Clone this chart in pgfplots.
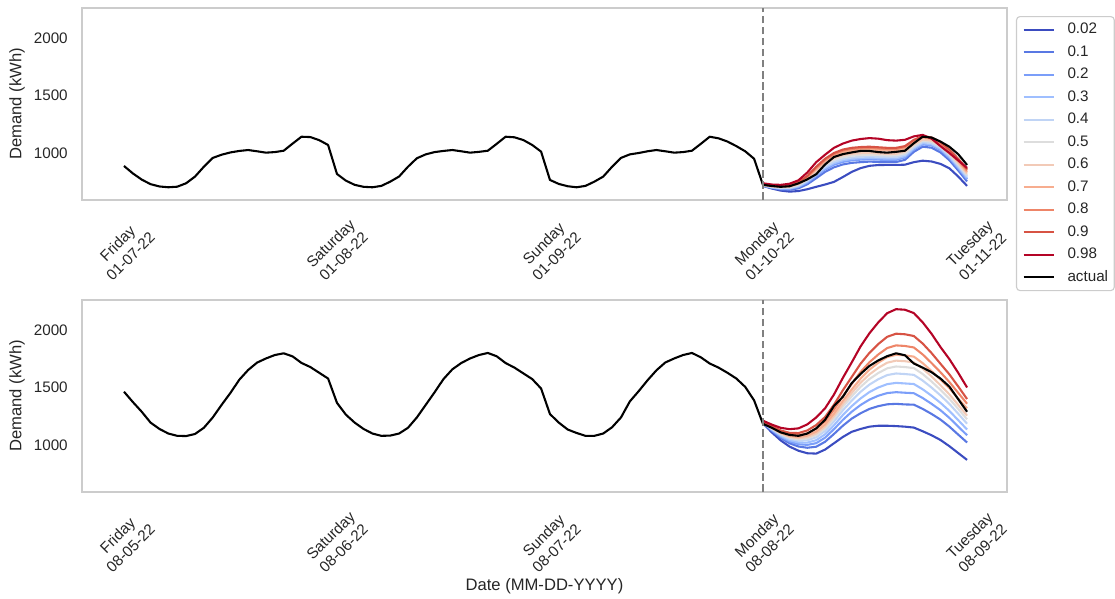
\documentclass[border=0pt]{standalone}
\usepackage{fontspec}
\setmainfont{Liberation Sans}
\usepackage{pgfplots}
\usepackage{pgfplotstable}
\pgfplotsset{compat=1.18}
\newlength\pxu \setlength\pxu{0.72bp}
\definecolor{c0}{RGB}{59,76,192}
\definecolor{c1}{RGB}{89,120,227}
\definecolor{c2}{RGB}{123,158,249}
\definecolor{c3}{RGB}{159,191,255}
\definecolor{c4}{RGB}{192,212,245}
\definecolor{c5}{RGB}{221,221,221}
\definecolor{c6}{RGB}{242,202,183}
\definecolor{c7}{RGB}{247,173,143}
\definecolor{c8}{RGB}{238,133,104}
\definecolor{c9}{RGB}{215,83,68}
\definecolor{c10}{RGB}{180,4,38}
\definecolor{axisgray}{RGB}{204,204,204}
\definecolor{textc}{RGB}{38,38,38}
\definecolor{dashg}{RGB}{128,128,128}

\pgfplotstableread[row sep=\\]{
h v\\
0 887\\1 822\\2 768\\3 728\\4 708\\5 701\\6 706\\7 736\\8 794\\9 880\\10 957\\11 985\\12 1005\\13 1018\\14 1026\\15 1015\\16 1003\\17 1008\\18 1020\\19 1082\\20 1142\\21 1139\\22 1112\\23 1070\\
24 817\\25 759\\26 722\\27 705\\28 701\\29 713\\30 750\\31 795\\32 880\\33 954\\34 988\\35 1008\\36 1018\\37 1026\\38 1015\\39 1003\\40 1010\\41 1020\\42 1080\\43 1142\\44 1137\\45 1113\\46 1070\\47 1012\\
48 765\\49 730\\50 710\\51 701\\52 713\\53 750\\54 794\\55 880\\56 957\\57 988\\58 1000\\59 1015\\60 1026\\61 1015\\62 1003\\63 1008\\64 1020\\65 1080\\66 1142\\67 1128\\68 1100\\69 1060\\70 1015\\71 950\\
72 722\\73 712\\74 705\\75 710\\76 735\\77 770\\78 815\\79 900\\80 965\\81 990\\82 1005\\83 1018\\84 1018\\85 1008\\86 1003\\87 1010\\88 1020\\89 1085\\90 1142\\91 1135\\92 1100\\93 1055\\94 990\\95 896\\
}\topact

\pgfplotstableread[row sep=\\]{
h v\\
0 1465\\1 1375\\2 1290\\3 1195\\4 1140\\5 1100\\6 1080\\7 1078\\8 1096\\9 1150\\10 1240\\11 1350\\12 1455\\13 1570\\14 1655\\15 1719\\16 1755\\17 1785\\18 1800\\19 1773\\20 1716\\21 1680\\22 1630\\23 1580\\
24 1368\\25 1265\\26 1195\\27 1140\\28 1100\\29 1080\\30 1082\\31 1100\\32 1150\\33 1240\\34 1350\\35 1460\\36 1575\\37 1660\\38 1715\\39 1755\\40 1785\\41 1803\\42 1774\\43 1715\\44 1675\\45 1625\\46 1575\\47 1493\\
48 1270\\49 1195\\50 1135\\51 1105\\52 1080\\53 1080\\54 1100\\55 1155\\56 1240\\57 1380\\58 1470\\59 1565\\60 1652\\61 1720\\62 1755\\63 1785\\64 1803\\65 1765\\66 1711\\67 1675\\68 1630\\69 1580\\70 1507\\71 1390\\
72 1185\\73 1150\\74 1110\\75 1088\\76 1080\\77 1100\\78 1145\\79 1220\\80 1340\\81 1420\\82 1540\\83 1620\\84 1690\\85 1738\\86 1775\\87 1800\\88 1783\\89 1711\\90 1675\\91 1635\\92 1580\\93 1510\\94 1400\\95 1290\\
}\botact

\pgfplotstableread[row sep=\\]{
h q02 q10 q20 q30 q40 q50 q60 q70 q80 q90 q98\\
72 713 715 716 717 718 720 722 724 726 728 736\\
73 690 695 698 700 703 706 709 712 715 718 725\\
74 672 682 688 691 695 699 703 707 710 713 722\\
75 663 679 687 691 696 701 706 711 715 718 732\\
76 668 692 703 709 715 722 728 735 740 745 762\\
77 684 727 742 750 758 767 775 785 793 800 830\\
78 705 780 800 810 820 833 845 860 870 880 920\\
79 725 835 856 868 880 895 910 928 940 950 985\\
80 748 875 898 910 923 940 955 977 990 1000 1045\\
81 790 900 922 935 947 963 980 1005 1020 1030 1082\\
82 835 914 936 948 960 977 993 1020 1035 1045 1108\\
83 868 920 942 954 966 982 998 1028 1042 1052 1122\\
84 888 925 945 958 970 985 1000 1032 1045 1055 1130\\
85 895 922 942 954 966 981 996 1027 1040 1050 1125\\
86 896 920 939 951 963 978 992 1022 1035 1045 1112\\
87 896 921 940 952 964 979 993 1022 1035 1045 1108\\
88 898 940 960 972 984 998 1012 1040 1052 1060 1115\\
89 920 1010 1030 1040 1050 1063 1075 1098 1108 1115 1145\\
90 933 1055 1075 1085 1095 1108 1118 1135 1142 1148 1158\\
91 926 1046 1066 1076 1085 1098 1108 1122 1130 1135 1125\\
92 905 1005 1026 1036 1046 1058 1068 1080 1088 1095 1060\\
93 867 938 957 968 978 990 1000 1012 1022 1030 1000\\
94 795 848 866 878 890 903 915 928 940 950 935\\
95 713 752 770 783 795 808 820 835 848 860 870\\
}\topfc

\pgfplotstableread[row sep=\\]{
h q02 q10 q20 q30 q40 q50 q60 q70 q80 q90 q98\\
72 1189 1193 1196 1198 1199 1201 1202 1203 1205 1207 1212\\
73 1110 1123 1130 1135 1141 1145 1148 1151 1157 1164 1178\\
74 1040 1061 1072 1081 1090 1096 1102 1107 1116 1127 1150\\
75 986 1015 1030 1042 1054 1064 1071 1079 1091 1106 1138\\
76 950 987 1007 1022 1038 1049 1059 1069 1085 1104 1145\\
77 928 976 1001 1021 1041 1057 1069 1082 1102 1127 1180\\
78 925 985 1016 1042 1067 1086 1101 1117 1142 1174 1240\\
79 960 1028 1064 1093 1122 1144 1162 1180 1208 1244 1320\\
80 1015 1096 1138 1172 1206 1232 1253 1274 1308 1351 1440\\
81 1070 1168 1219 1261 1302 1333 1358 1384 1425 1477 1585\\
82 1115 1230 1290 1339 1387 1424 1454 1484 1532 1593 1720\\
83 1140 1277 1349 1406 1464 1507 1543 1579 1637 1709 1860\\
84 1160 1315 1396 1462 1527 1576 1616 1657 1722 1804 1975\\
85 1168 1339 1430 1502 1574 1628 1673 1718 1790 1881 2070\\
86 1168 1355 1453 1531 1610 1669 1718 1767 1846 1944 2150\\
87 1165 1359 1461 1542 1624 1685 1736 1787 1869 1971 2185\\
88 1160 1354 1456 1537 1619 1680 1731 1782 1864 1966 2180\\
89 1152 1352 1452 1532 1612 1671 1721 1771 1851 1951 2151\\
90 1120 1315 1410 1486 1562 1619 1666 1714 1790 1885 2070\\
91 1085 1271 1359 1430 1501 1554 1598 1645 1715 1802 1970\\
92 1044 1222 1304 1368 1433 1482 1522 1570 1635 1709 1855\\
93 990 1161 1237 1298 1359 1404 1442 1495 1550 1617 1750\\
94 930 1091 1161 1217 1273 1315 1350 1405 1455 1511 1630\\
95 870 1022 1085 1135 1186 1224 1256 1320 1360 1401 1502\\
}\botfc

\pgfplotsset{
  demand/.style={
    scale only axis, width=925\pxu, height=192\pxu,
    xmin=-4.73, xmax=99.5, ymin=590, ymax=2265,
    axis line style={draw=axisgray, line width=1.25bp},
    major tick length=0pt, tick style={draw=none},
    ytick={1000,1500,2000}, xtick={0,24,48,72,96},
    /pgf/number format/assume math mode=true,
    scaled y ticks=false,
    yticklabel={\pgfmathprintnumber[1000 sep={}]{\tick}},
    yticklabel style={font=\fontsize{11}{13.2}\selectfont, text=textc, anchor=east, inner sep=0pt, xshift=-14\pxu},
    xticklabel style={font=\fontsize{11}{13.2}\selectfont, text=textc, yshift=-50\pxu, rotate=45, anchor=center, align=center, inner sep=0pt},
    ylabel={Demand (kWh)},
    ylabel style={font=\fontsize{12}{14}\selectfont, text=textc, at={(axis description cs:-0.0703,0.5)}, anchor=center},
    every axis plot/.append style={line width=1.5bp, no markers, line join=round},
  },
  vline/.style={dashg, line width=1.5bp, dash pattern=on 5.55bp off 2.4bp, forget plot},
}

\begin{document}
\begin{tikzpicture}
\path[use as bounding box] (0,0) rectangle (1115\pxu,-599\pxu);

\begin{axis}[demand, at={(82\pxu,-8\pxu)}, anchor=north west,
  xticklabels={{Friday\\01-07-22},{Saturday\\01-08-22},{Sunday\\01-09-22},{Monday\\01-10-22},{Tuesday\\01-11-22}},
  legend style={at={(axis description cs:1.0097,0.9583)}, anchor=north west,
    draw=axisgray, line width=0.8bp, rounded corners=2.5bp, fill=white,
    font=\fontsize{11}{13.2}\selectfont, text=textc,
    inner xsep=4.4bp, inner ysep=4.2bp, row sep=5.5bp,
    nodes={inner sep=0pt, text height=8.2bp, text depth=2.5bp},
    /tikz/every odd column/.append style={column sep=8.8bp}},
  legend cell align=left,
  legend image code/.code={\draw[#1, line width=1.5bp] (0bp,0bp) -- (22bp,0bp);},
]
\addplot[c0] table[x=h, y=q02] {\topfc};
\addplot[c1] table[x=h, y=q10] {\topfc};
\addplot[c2] table[x=h, y=q20] {\topfc};
\addplot[c3] table[x=h, y=q30] {\topfc};
\addplot[c4] table[x=h, y=q40] {\topfc};
\addplot[c5] table[x=h, y=q50] {\topfc};
\addplot[c6] table[x=h, y=q60] {\topfc};
\addplot[c7] table[x=h, y=q70] {\topfc};
\addplot[c8] table[x=h, y=q80] {\topfc};
\addplot[c9] table[x=h, y=q90] {\topfc};
\addplot[c10] table[x=h, y=q98] {\topfc};
\addplot[black] table[x=h, y=v] {\topact};
\addplot[vline] coordinates {(72,590) (72,2265)};
\legend{0.02,0.1,0.2,0.3,0.4,0.5,0.6,0.7,0.8,0.9,0.98,actual}
\end{axis}

\begin{axis}[demand, at={(82\pxu,-300\pxu)}, anchor=north west,
  xticklabels={{Friday\\08-05-22},{Saturday\\08-06-22},{Sunday\\08-07-22},{Monday\\08-08-22},{Tuesday\\08-09-22}},
  xlabel={Date (MM-DD-YYYY)},
  xlabel style={font=\fontsize{12}{14}\selectfont, text=textc, at={(axis description cs:0.5,-0.4896)}, anchor=center},
]
\addplot[c0] table[x=h, y=q02] {\botfc};
\addplot[c1] table[x=h, y=q10] {\botfc};
\addplot[c2] table[x=h, y=q20] {\botfc};
\addplot[c3] table[x=h, y=q30] {\botfc};
\addplot[c4] table[x=h, y=q40] {\botfc};
\addplot[c5] table[x=h, y=q50] {\botfc};
\addplot[c6] table[x=h, y=q60] {\botfc};
\addplot[c7] table[x=h, y=q70] {\botfc};
\addplot[c8] table[x=h, y=q80] {\botfc};
\addplot[c9] table[x=h, y=q90] {\botfc};
\addplot[c10] table[x=h, y=q98] {\botfc};
\addplot[black] table[x=h, y=v] {\botact};
\addplot[vline] coordinates {(72,590) (72,2265)};
\end{axis}
\end{tikzpicture}
\end{document}
